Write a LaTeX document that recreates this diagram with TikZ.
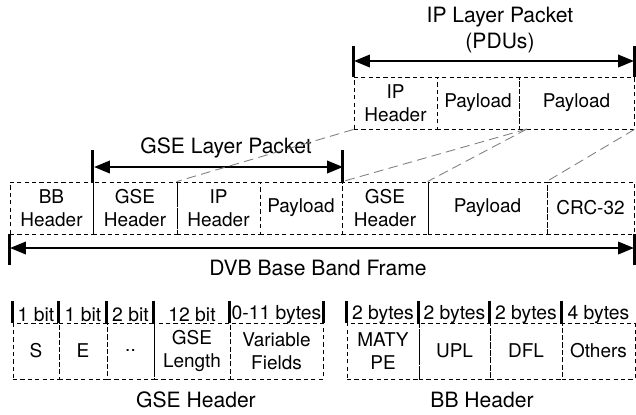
\documentclass[tikz,border=0pt]{standalone}
\usepackage{fontspec}
\setmainfont{TeX Gyre Heros}
\usetikzlibrary{arrows.meta}

\begin{document}
\begin{tikzpicture}[x=0.02cm,y=-0.02cm]
	\tikzstyle{cell}=[draw,dash pattern=on 2.4pt off 1.8pt,line width=0.5pt,inner sep=0pt,align=center,font=\fontsize{10.8}{13}\selectfont,minimum height=52*0.02cm]
	\tikzstyle{field}=[cell,minimum height=56*0.02cm]
	\tikzstyle{bits}=[inner sep=0pt,font=\fontsize{11}{13}\selectfont]
	\tikzstyle{title}=[inner sep=0pt,align=center,font=\fontsize{12}{15}\selectfont]
	\tikzstyle{span}=[line width=1.4pt,{Triangle[length=9pt,width=7pt]}-{Triangle[length=9pt,width=7pt]}]
	\tikzstyle{bar}=[line width=1.4pt]
	\tikzstyle{map}=[gray,line width=0.5pt,dash pattern=on 5.5pt off 3pt]
	\useasboundingbox (0,0) rectangle (636,414);
	% IP layer packet
	\node[cell,minimum width=83*0.02cm] (ipH) at (395.5,103) {IP\\Header};
	\node[cell,minimum width=82*0.02cm] (ipP1) at (478,103) {Payload};
	\node[cell,minimum width=115*0.02cm] (ipP2) at (576.5,103) {Payload};
	\node[title] (ipT) at (500,30) {IP Layer Packet\\(PDUs)};
	\coordinate (ipL) at (354,61);
	\coordinate (ipR) at (634,61);
	\draw[span] (ipL) -- (ipR);
	\draw[bar] (ipH.north west) -- ++(0,-31);
	\draw[bar] (ipP2.north east) -- ++(0,-31);
	% base band frame
	\node[cell,minimum width=83*0.02cm] (bbH) at (51.5,208) {BB\\Header};
	\node[cell,minimum width=84*0.02cm] (gseH1) at (135,208) {GSE\\Header};
	\node[cell,minimum width=83*0.02cm] (ipH2) at (218.5,208) {IP\\Header};
	\node[cell,minimum width=82*0.02cm] (pay1) at (301,208) {Payload};
	\node[cell,minimum width=86*0.02cm] (gseH2) at (385,208) {GSE\\Header};
	\node[cell,minimum width=119*0.02cm] (pay2) at (487.5,208) {Payload};
	\node[cell,minimum width=87*0.02cm] (crc) at (590.5,208) {CRC-32};
	% GSE layer packet
	\node[title] (gseT) at (226,148) {GSE Layer Packet};
	\coordinate (gseL) at (94,167);
	\coordinate (gseR) at (343,167);
	\draw[span] (gseL) -- (gseR);
	\draw[bar] (gseH1.north west) -- ++(0,-32);
	\draw[bar] (pay1.north east) -- ++(0,-32);
	% DVB frame
	\node[title] (dvbT) at (318,268) {DVB Base Band Frame};
	\coordinate (dvbL) at (10,248);
	\coordinate (dvbR) at (634,248);
	\draw[span] (dvbL) -- (dvbR);
	\draw[bar] (bbH.south west) -- ++(0,31);
	\draw[bar] (crc.south east) -- ++(0,31);
	% mapping
	\coordinate (split) at (527,129);
	\draw[map] (ipH.south west) -- (ipH2.north west);
	\draw[map] (split) -- (pay1.north east);
	\draw[map] (split) -- (pay2.north west);
	\draw[map] (ipP2.south east) -- (crc.north west);
	% GSE header
	\node[field,minimum width=46*0.02cm] (s) at (36,351) {S};
	\node[field,minimum width=48*0.02cm] (e) at (83,351) {E};
	\node[field,minimum width=47*0.02cm] (dd) at (130.5,351) {..};
	\node[field,minimum width=76*0.02cm] (len) at (192,351) {GSE\\Length};
	\node[field,minimum width=93*0.02cm] (var) at (276.5,351) {Variable\\Fields};
	\node[bits] (sB) at (36,315) {1 bit};
	\node[bits] (eB) at (83,315) {1 bit};
	\node[bits] (ddB) at (130.5,315) {2 bit};
	\node[bits] (lenB) at (192,315) {12 bit};
	\node[bits] (varB) at (276.5,315) {0-11 bytes};
	\foreach \n in {s,e,dd,len,var}
		\draw[bar] (\n.north west) -- ++(0,-22);
	\draw[bar] (var.north east) -- ++(0,-22);
	\node[title] (gseHT) at (196,400) {GSE Header};
	% BB header
	\node[field,minimum width=72*0.02cm] (maty) at (383,351) {MATY\\PE};
	\node[field,minimum width=71*0.02cm] (upl) at (454.5,351) {UPL};
	\node[field,minimum width=72*0.02cm] (dfl) at (526,351) {DFL};
	\node[field,minimum width=73*0.02cm] (oth) at (598.5,351) {Others};
	\node[bits] (matyB) at (383,315) {2 bytes};
	\node[bits] (uplB) at (454.5,315) {2 bytes};
	\node[bits] (dflB) at (526,315) {2 bytes};
	\node[bits] (othB) at (598.5,315) {4 bytes};
	\foreach \n in {maty,upl,dfl,oth}
		\draw[bar] (\n.north west) -- ++(0,-22);
	\node[title] (bbHT) at (482,400) {BB Header};
\end{tikzpicture}
\end{document}
